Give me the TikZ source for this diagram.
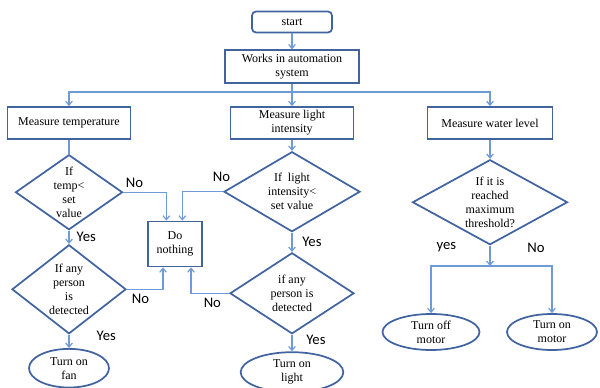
\documentclass[tikz,border=0pt]{standalone}
\usepackage{fontspec}
\setmainfont{Liberation Serif}
\newfontfamily\answerfont{Carlito}
\usepackage{xcolor}
\usetikzlibrary{positioning, arrows.meta, shapes.geometric}
\definecolor{boxblue}{RGB}{65,100,160}
\definecolor{lineblue}{RGB}{110,155,215}

\begin{document}
\begin{tikzpicture}[
    x=0.75pt, y=-0.75pt,
    box/.style={rectangle, draw=boxblue, line width=1.3pt, align=center, font=\fontsize{9}{10.5}\selectfont, inner sep=1pt},
    startbox/.style={box, rounded corners=3pt},
    decision/.style={diamond, draw=boxblue, line width=1.3pt, align=center, font=\fontsize{9}{10.5}\selectfont, inner sep=0pt},
    endbox/.style={ellipse, draw=boxblue, line width=1.3pt, align=center, font=\fontsize{9}{10.5}\selectfont, inner sep=0pt},
    arrow/.style={-{Straight Barb[length=3pt, width=5pt]}, draw=lineblue, line width=0.9pt},
    line/.style={draw=lineblue, line width=0.9pt},
    answer/.style={font=\answerfont\fontsize{11}{13}\selectfont, text=black}
]
    \useasboundingbox (0,0) rectangle (600,388);

    \node[startbox, minimum width=60pt, minimum height=15.75pt] (start) at (292,22) {start};
    \node[box, minimum width=100.5pt, minimum height=24.75pt, below=12pt of start] (works) {Works in automation\\ system};
    \coordinate (split) at (292,92);

    \node[box, minimum width=92.25pt, minimum height=24pt] (temp) at (69,123) {Measure temperature};
    \node[box, minimum width=92.25pt, minimum height=24pt] (light) at (292,123) {Measure light\\ intensity};
    \node[box, minimum width=93.75pt, minimum height=24pt] (water) at (490,123) {Measure water level};

    \node[decision, minimum width=80.25pt, minimum height=56.25pt, aspect=1.43, below=10.5pt of temp] (tempq) {If\\ temp<\\ set\\ value};
    \node[decision, minimum width=102pt, minimum height=60pt, aspect=1.7, below=8.25pt of light] (lightq) {If~ light\\ intensity<\\ set value};
    \node[decision, minimum width=116.25pt, minimum height=63.75pt, aspect=1.82, below=14.25pt of water] (waterq) {If it is\\ reached\\ maximum\\ threshold?};

    \node[box, minimum width=40.5pt, minimum height=33.75pt] (nothing) at (175,244) {Do\\ nothing};

    \node[decision, minimum width=85.5pt, minimum height=66.75pt, aspect=1.28, below=10pt of tempq] (persona) {If any\\ person\\ is\\ detected};
    \node[decision, minimum width=93pt, minimum height=60.75pt, aspect=1.53, below=14.5pt of lightq] (personb) {if any\\ person is\\ detected};

    \node[endbox, minimum width=60pt, minimum height=29pt, below=10pt of persona] (fan) {Turn on\\ fan};
    \node[endbox, minimum width=77pt, minimum height=30pt, below=12.5pt of personb] (lamp) {Turn on\\ light};
    \coordinate (split2) at (490,266);
    \node[endbox, minimum width=72.75pt, minimum height=27pt] (motoroff) at (431,332) {Turn off\\ motor};
    \node[endbox, minimum width=67.5pt, minimum height=27pt] (motoron) at (552,332) {Turn on\\ motor};

    \draw[arrow] (start) -- (works);
    \draw[arrow] (works) -- (light);
    \draw[arrow] (split) -| (temp);
    \draw[arrow] (split) -| (water);
    \draw[line] (temp) -- (tempq);
    \draw[arrow] (light) -- (lightq);
    \draw[arrow] (water) -- (waterq);

    \draw[arrow] (tempq.east) -| node[pos=0.13, above, answer] {No} ([xshift=-6.5pt]nothing.north);
    \draw[arrow] (lightq.west) -| node[pos=0.02, above=4pt, answer] {No} ([xshift=5.5pt]nothing.north);
    \draw[arrow] (tempq) -- node[right=2pt, answer] {Yes} (persona);
    \draw[arrow] (lightq) -- node[right=4pt, answer] {Yes} (personb);
    \draw[arrow] (persona.east) -| node[pos=0.19, below, answer] {No} ([xshift=-9pt]nothing.south);
    \draw[arrow] (personb.west) -| node[pos=0.22, below, answer] {No} ([xshift=12pt]nothing.south);
    \draw[arrow] (persona) -- node[pos=0.1, right=17pt, answer] {Yes} (fan);
    \draw[arrow] (personb) -- node[pos=0.3, right=7pt, answer] {Yes} (lamp);

    \draw[arrow] (waterq) -- (split2);
    \draw[arrow] (split2) -| node[pos=0.37, above=7pt, answer] {yes} (motoroff);
    \draw[arrow] (split2) -| node[pos=0.37, above=6pt, answer] {No} (motoron);
\end{tikzpicture}
\end{document}
